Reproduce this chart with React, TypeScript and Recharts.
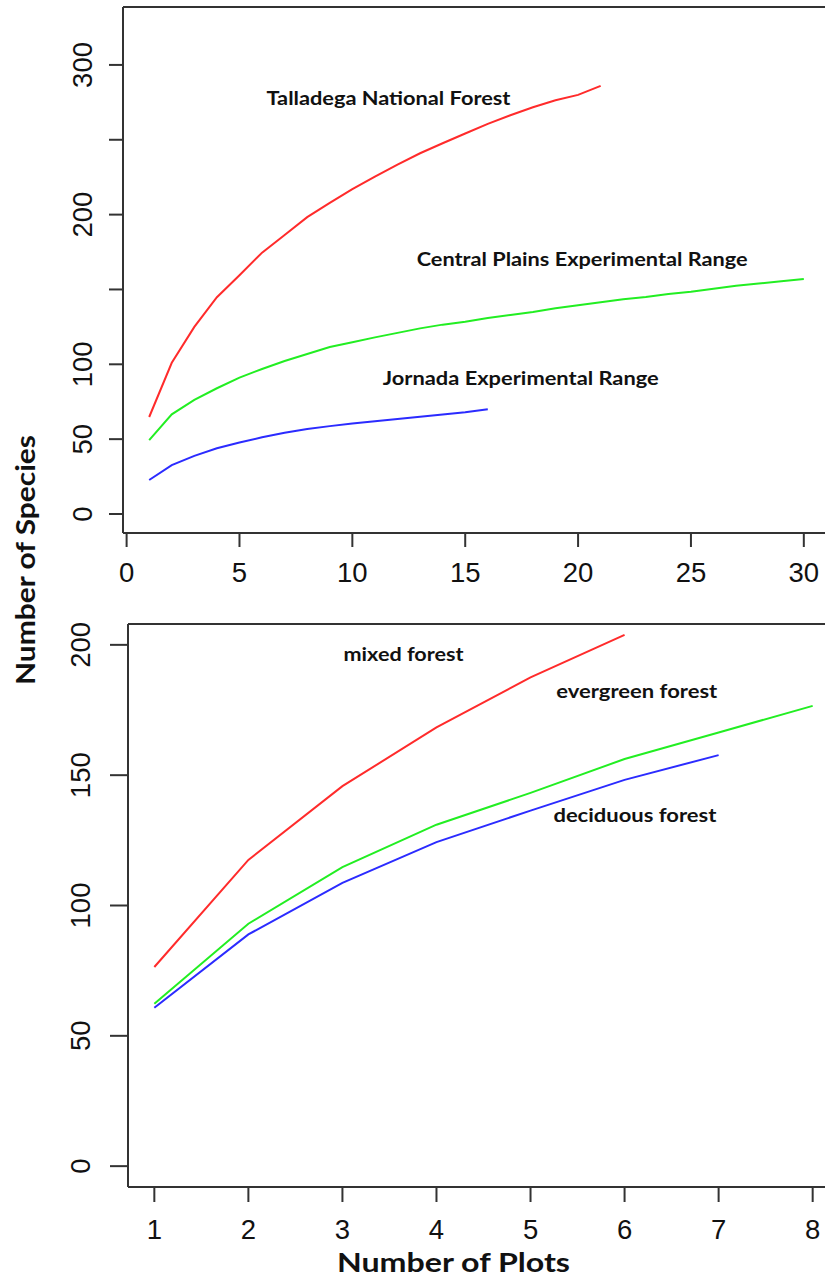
import React from 'react';
import { LineChart, Line, XAxis, YAxis, ReferenceLine, ReferenceDot } from 'recharts';

// ---------- Top panel data ----------
const plotsTop = [1, 2, 3, 4, 5, 6, 7, 8, 9, 10, 11, 12, 13, 14, 15, 16, 17, 18, 19, 20, 21, 22, 23, 24, 25, 26, 27, 28, 29, 30];
const talladega = [64.8, 101, 125, 144.8, 159.5, 174.6, 186.4, 198.3, 207.8, 217, 225.4, 233.4, 241, 247.7, 254.2, 260.6, 266.4, 271.7, 276.4, 280, 286];
const centralPlains = [49.4, 66.6, 76.2, 84, 91.1, 96.9, 102.2, 106.9, 111.5, 114.7, 118, 121, 124, 126.5, 128.5, 131, 133, 135, 137.5, 139.5, 141.5, 143.5, 145, 147, 148.5, 150.5, 152.5, 154, 155.5, 157];
const jornada = [22.7, 32.7, 38.8, 43.9, 47.7, 51.2, 54.3, 56.8, 58.7, 60.5, 62, 63.5, 65, 66.5, 68, 70];
const topXTicks = [0, 5, 10, 15, 20, 25, 30];
const topYTicks = [0, 50, 100, 150, 200, 250, 300];
const topYLabels = ['0', '50', '100', '', '200', '', '300'];
const topNames = ['Talladega National Forest', 'Central Plains Experimental Range', 'Jornada Experimental Range'];
const topNameX = [11.6, 20.18, 17.46];
const topNameY = [276.6, 169, 89.5];

// ---------- Bottom panel data ----------
const plotsBottom = [1, 2, 3, 4, 5, 6, 7, 8];
const mixedForest = [76.4, 117.5, 145.8, 168.3, 187.5, 203.8];
const evergreenForest = [62.3, 93, 114.7, 131, 143.2, 156.2, 166.4, 176.6];
const deciduousForest = [60.8, 88.9, 108.7, 124.3, 136.4, 148.2, 157.7];
const bottomXTicks = [1, 2, 3, 4, 5, 6, 7, 8];
const bottomYTicks = [0, 50, 100, 150, 200];
const bottomYLabels = ['0', '50', '100', '150', '200'];
const bottomNames = ['mixed forest', 'evergreen forest', 'deciduous forest'];
const bottomNameX = [3.65, 6.13, 6.11];
const bottomNameY = [195.8, 181.6, 134.1];

const yTitle = 'Number of Species';
const xTitle = 'Number of Plots';

// ---------- tables built from the arrays ----------
const topRows = plotsTop.map((x, i) => ({
  x,
  talladega: talladega[i],
  central: centralPlains[i],
  jornada: jornada[i],
}));
const bottomRows = plotsBottom.map((x, i) => ({
  x,
  mixed: mixedForest[i],
  evergreen: evergreenForest[i],
  deciduous: deciduousForest[i],
}));

// ---------- styles ----------
const RED = '#ff2b2b';
const GREEN = '#22ee22';
const BLUE = '#2b2bff';
const AXIS = '#333';
const TICK_FONT = '"Liberation Sans", Arial, sans-serif';
const BOLD_FONT = 'Lato, "Open Sans", sans-serif';
const topNameW = [244, 331, 276];
const bottomNameW = [120, 161, 163];

const makeYTick = (ticks: number[], labels: string[], dx: number) => (props: any) => {
  const { x, y, payload } = props;
  const idx = ticks.indexOf(payload.value);
  const t = idx >= 0 ? labels[idx] : String(payload.value);
  const tx = x + dx;
  return (
    <text x={tx} y={y} transform={`rotate(-90 ${tx} ${y})`} textAnchor="middle" fontFamily={TICK_FONT} fontSize={27.5} fill="#111">
      {t}
    </text>
  );
};

const makeXTick = (dy: number) => (props: any) => {
  const { x, y, payload } = props;
  return (
    <text x={x} y={y + dy} textAnchor="middle" fontFamily={TICK_FONT} fontSize={27.5} fill="#111">
      {String(payload.value)}
    </text>
  );
};

const makeLabelShape = (text: string, w: number) => (p: any) => (
  <text
    x={p.cx}
    y={p.cy + 5}
    textAnchor="middle"
    fontFamily={BOLD_FONT}
    fontWeight={700}
    fontSize={18.5}
    fill="#111"
    textLength={w}
    lengthAdjust="spacingAndGlyphs"
  >
    {text}
  </text>
);

const axisLine = { stroke: AXIS, strokeWidth: 2 };

export default function App() {
  return (
    <div style={{ position: 'absolute', left: 0, top: 0, width: 825, height: 1280, overflow: 'hidden', background: '#fff' }}>
      <div style={{ position: 'absolute', left: 0, top: 0 }}>
        <LineChart width={850} height={600} data={topRows} margin={{ top: 7, right: 20, left: 0, bottom: 7 }}>
          <XAxis
            type="number"
            dataKey="x"
            domain={[-0.16, 31.16]}
            ticks={topXTicks}
            interval={0}
            allowDataOverflow
            height={60}
            tickSize={14}
            tickMargin={0}
            axisLine={axisLine}
            tickLine={axisLine}
            tick={makeXTick(35)}
          />
          <YAxis
            type="number"
            domain={[-12.7, 338.7]}
            ticks={topYTicks}
            interval={0}
            allowDataOverflow
            width={123}
            tickSize={14}
            tickMargin={0}
            axisLine={axisLine}
            tickLine={axisLine}
            tick={makeYTick(topYTicks, topYLabels, -17)}
          />
          <ReferenceLine y={338.7} stroke={AXIS} strokeWidth={2} />
          <Line type="linear" dataKey="talladega" stroke={RED} strokeWidth={2} dot={false} isAnimationActive={false} />
          <Line type="linear" dataKey="central" stroke={GREEN} strokeWidth={2} dot={false} isAnimationActive={false} />
          <Line type="linear" dataKey="jornada" stroke={BLUE} strokeWidth={2} dot={false} isAnimationActive={false} />
          {topNames.map((n, i) => (
            <ReferenceDot key={n} x={topNameX[i]} y={topNameY[i]} r={0} shape={makeLabelShape(n, topNameW[i])} />
          ))}
        </LineChart>
      </div>
      <div style={{ position: 'absolute', left: 0, top: 600 }}>
        <LineChart width={850} height={680} data={bottomRows} margin={{ top: 24, right: 11, left: 0, bottom: 33 }}>
          <XAxis
            type="number"
            dataKey="x"
            domain={[0.72, 8.28]}
            ticks={bottomXTicks}
            interval={0}
            allowDataOverflow
            height={60}
            tickSize={15}
            tickMargin={0}
            axisLine={axisLine}
            tickLine={axisLine}
            tick={makeXTick(37)}
          />
          <YAxis
            type="number"
            domain={[-8, 208]}
            ticks={bottomYTicks}
            interval={0}
            allowDataOverflow
            width={128}
            tickSize={18}
            tickMargin={0}
            axisLine={axisLine}
            tickLine={axisLine}
            tick={makeYTick(bottomYTicks, bottomYLabels, -20)}
          />
          <ReferenceLine y={208} stroke={AXIS} strokeWidth={2} />
          <Line type="linear" dataKey="mixed" stroke={RED} strokeWidth={2} dot={false} isAnimationActive={false} />
          <Line type="linear" dataKey="evergreen" stroke={GREEN} strokeWidth={2} dot={false} isAnimationActive={false} />
          <Line type="linear" dataKey="deciduous" stroke={BLUE} strokeWidth={2} dot={false} isAnimationActive={false} />
          {bottomNames.map((n, i) => (
            <ReferenceDot key={n} x={bottomNameX[i]} y={bottomNameY[i]} r={0} shape={makeLabelShape(n, bottomNameW[i])} />
          ))}
        </LineChart>
      </div>
      <svg width={825} height={1280} style={{ position: 'absolute', left: 0, top: 0, pointerEvents: 'none' }}>
        <text
          x={35}
          y={560}
          transform="rotate(-90 35 560)"
          textAnchor="middle"
          fontFamily={BOLD_FONT}
          fontWeight={700}
          fontSize={27}
          fill="#111"
          textLength={250}
          lengthAdjust="spacingAndGlyphs"
        >
          {yTitle}
        </text>
        <text
          x={453.5}
          y={1272}
          textAnchor="middle"
          fontFamily={BOLD_FONT}
          fontWeight={700}
          fontSize={27}
          fill="#111"
          textLength={233}
          lengthAdjust="spacingAndGlyphs"
        >
          {xTitle}
        </text>
      </svg>
    </div>
  );
}
